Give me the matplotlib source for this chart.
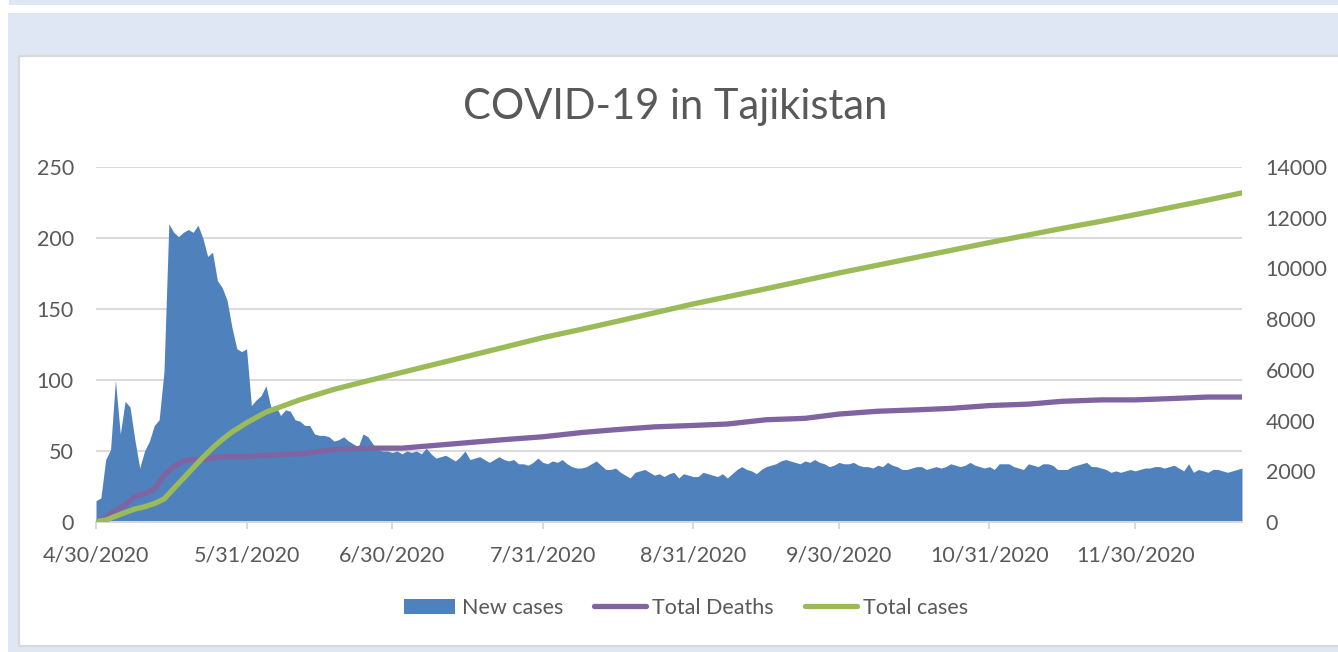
import numpy as np
import pandas as pd
import matplotlib
matplotlib.use("Agg")
import matplotlib.pyplot as plt
from matplotlib.patches import Rectangle, Patch
from matplotlib.lines import Line2D

plt.rcParams['font.family'] = ['Lato', 'DejaVu Sans']

# %%
# daily new cases, one value per day starting 4/30/2020
new_cases = [
    15, 17, 44, 51, 100, 62, 85, 81, 58, 38, 50, 57, 68, 72, 106,
    210, 204, 201, 204, 206, 204, 209, 200, 187, 190, 170, 165, 156, 137, 122, 120, 122,
    82, 86, 89, 96, 81, 82, 75, 79, 78, 72, 71, 68, 68, 62, 61, 61,
    60, 57, 58, 60, 57, 55, 53, 62, 60, 55, 51, 50, 50, 49, 50, 48, 50, 49, 50,
    48, 52, 48, 45, 46, 47, 45, 43, 46, 50, 44, 45, 46, 44, 42, 44, 46, 44, 43, 44,
    41, 41, 40, 42, 45, 42, 41, 43, 42, 44, 41, 39, 38, 38, 39, 41, 43, 40, 37, 37,
    38, 35, 33, 31, 35, 36, 37, 35, 33, 34, 32, 34, 35, 31, 34, 33, 32, 32, 35, 34,
    33, 32, 34, 31, 34, 37, 39, 37, 36, 34, 37, 39, 40, 41, 43, 44, 43, 42, 41, 43,
    42, 44, 42, 41, 39, 40, 42, 41, 41, 42, 40, 39, 39, 38, 40, 39, 42, 40, 39, 37,
    37, 38, 39, 39, 37, 38, 39, 38, 39, 41, 40, 39, 40, 42, 40, 39, 38, 39, 37, 41,
    41, 41, 39, 38, 37, 41, 40, 39, 41, 41, 40, 37, 37, 37, 39, 40, 41, 42, 39, 39,
    38, 37, 35, 36, 35, 36, 37, 36, 37, 38, 38, 39, 39, 38, 39, 40, 38, 36, 41, 35,
    37, 36, 35, 37, 37, 36, 35, 36, 37, 38,
]

# cumulative series, sampled at these day offsets
line_days = [0, 2, 4, 6, 8, 10, 12, 14, 16, 18, 20, 22, 24, 26, 28, 30, 31, 35,
             42, 49, 56, 63, 70, 77, 84, 92, 100, 107, 115, 123, 130, 138, 146,
             153, 161, 169, 176, 184, 192, 199, 207, 214, 222, 229, 236]
total_deaths = [0, 3, 8, 12, 18, 20, 23, 33, 39, 43, 44, 44, 45, 46, 46, 46, 46, 47,
                48, 51, 52, 52, 54, 56, 58, 60, 63, 65, 67, 68, 69, 72, 73,
                76, 78, 79, 80, 82, 83, 85, 86, 86, 87, 88, 88]
total_cases = [15, 76, 227, 374, 513, 601, 726, 904, 1318, 1723, 2133, 2542, 2919,
               3254, 3547, 3789, 3911, 4330, 4820, 5230, 5570, 5900, 6230, 6560,
               6890, 7270, 7600, 7900, 8250, 8600, 8880, 9200, 9530, 9820, 10130,
               10440, 10710, 11020, 11320, 11580, 11860, 12120, 12430, 12700, 12980]

tick_dates = ['2020-04-30', '2020-05-31', '2020-06-30', '2020-07-31',
              '2020-08-31', '2020-09-30', '2020-10-31', '2020-11-30']
tick_labels = ['4/30/2020', '5/31/2020', '6/30/2020', '7/31/2020',
               '8/31/2020', '9/30/2020', '10/31/2020', '11/30/2020']

# %%
W, H = 1338, 652
start = pd.Timestamp('2020-04-30')
dates = pd.date_range(start, periods=len(new_cases), freq='D')
line_dates = start + pd.to_timedelta(line_days, unit='D')

BLUE = '#4F81BD'
PURPLE = '#8064A2'
GREEN = '#9BBB59'
TXT = '#595959'
GRID = '#D9D9D9'
BG = '#DFE7F5'

fig = plt.figure(figsize=(W / 100, H / 100), dpi=100, facecolor='white')


def px_rect(x0, y0, x1, y1, **kw):
    return Rectangle((x0 / W, 1 - y1 / H), (x1 - x0) / W, (y1 - y0) / H,
                     transform=fig.transFigure, **kw)


# background pieces around the chart box
fig.add_artist(px_rect(9, 0, W, 5, facecolor=BG, edgecolor='none', zorder=-10))
fig.add_artist(px_rect(8, 13, W, H, facecolor=BG, edgecolor='none', zorder=-10))
fig.add_artist(px_rect(19, 56, W + 10, 646, facecolor='white', edgecolor=GRID,
                       linewidth=1.6, zorder=-9))

ax = fig.add_axes([96 / W, 1 - 522 / H, 1146 / W, 355 / H])
ax.set_facecolor('none')
ax.fill_between(dates, 0, new_cases, color=BLUE, linewidth=0, zorder=2)
ax.plot(line_dates, total_deaths, color=PURPLE, linewidth=3.8,
        solid_capstyle='round', solid_joinstyle='round', zorder=3)
ax.set_ylim(0, 250)
ax.set_yticks(range(0, 251, 50))
ax.set_xlim(dates[0], dates[-1])
ax.set_xticks(pd.to_datetime(tick_dates))
ax.set_xticklabels(tick_labels)
ax.grid(axis='y', color=GRID, linewidth=1.4, zorder=0)
ax.set_axisbelow(True)
for s in ['top', 'right', 'left']:
    ax.spines[s].set_visible(False)
ax.spines['bottom'].set_color(GRID)
ax.spines['bottom'].set_linewidth(1.4)
ax.tick_params(axis='y', length=0, pad=16, labelsize=15.5, labelcolor=TXT)
ax.tick_params(axis='x', length=5, width=1.4, color=GRID, pad=12,
               labelsize=15.5, labelcolor=TXT)

ax2 = ax.twinx()
ax2.plot(line_dates, total_cases, color=GREEN, linewidth=3.8,
         solid_capstyle='round', solid_joinstyle='round', zorder=4)
ax2.set_ylim(0, 14000)
ax2.set_yticks(range(0, 14001, 2000))
for s in ['top', 'right', 'left', 'bottom']:
    ax2.spines[s].set_visible(False)
ax2.tick_params(axis='y', length=0, pad=17, labelsize=15.5, labelcolor=TXT)

fig.text(675 / W, 1 - 107 / H, 'COVID-19 in Tajikistan', ha='center',
         va='center', fontsize=30, color=TXT)

handles = [Patch(facecolor=BLUE, edgecolor='none'),
           Line2D([], [], color=PURPLE, linewidth=3.8, solid_capstyle='round'),
           Line2D([], [], color=GREEN, linewidth=3.8, solid_capstyle='round')]
fig.legend(handles, ['New cases', 'Total Deaths', 'Total cases'],
           loc='center', bbox_to_anchor=(686 / W, 1 - 608 / H), ncol=3,
           frameon=False, fontsize=15.5, labelcolor=TXT, handlelength=2.4,
           handletextpad=0.3, columnspacing=1.45)

fig.savefig('out.png', dpi=100)
